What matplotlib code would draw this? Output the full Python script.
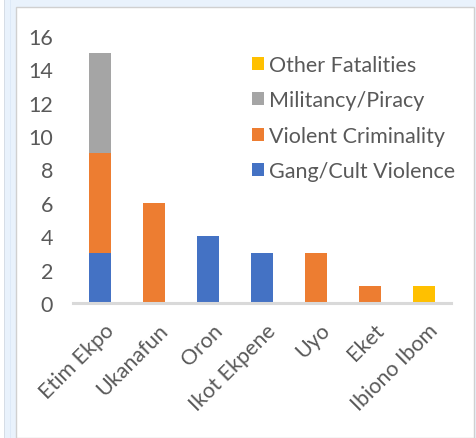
import matplotlib
matplotlib.use("Agg")
import matplotlib.pyplot as plt
from matplotlib.patches import Rectangle
import matplotlib.transforms as mtransforms
import numpy as np

categories = ["Etim Ekpo", "Ukanafun", "Oron", "Ikot Ekpene", "Uyo", "Eket", "Ibiono Ibom"]
gang = [3, 0, 4, 3, 0, 0, 0]
violent = [6, 6, 0, 0, 3, 1, 0]
militancy = [6, 0, 0, 0, 0, 0, 0]
other = [0, 0, 0, 0, 0, 0, 1]
series_names = ["Gang/Cult Violence", "Violent Criminality", "Militancy/Piracy", "Other Fatalities"]
colors = ["#4472c4", "#ed7d31", "#a5a5a5", "#ffc000"]
yticks = [0, 2, 4, 6, 8, 10, 12, 14, 16]

plt.rcParams['font.family'] = ['Lato', 'DejaVu Sans']
W, H = 477, 439
FS = 15.5
fig = plt.figure(figsize=(W/100, H/100), dpi=100)
fig.patch.set_facecolor("white")

# background axes for frame
bg = fig.add_axes([0, 0, 1, 1], zorder=-10)
bg.set_xlim(0, W)
bg.set_ylim(H, 0)
bg.axis("off")
bg.add_patch(Rectangle((4, 0), 473, 439, facecolor="#e9f2fc", edgecolor="none"))
bg.add_patch(Rectangle((4, 0), 1.2, 439, facecolor="#d6dde6", edgecolor="none"))
bg.add_patch(Rectangle((10, 0), 1.0, 439, facecolor="#dde9f7", edgecolor="none"))
bg.add_patch(Rectangle((16, 8), 458, 431, facecolor="white", edgecolor="#d0d0d0", linewidth=1.0))

# axes: x from 73 to 451 px, y zero at 304, 16 at 37
ax = fig.add_axes([73/W, 1 - 304/H, (451-73)/W, (304-37)/H])
ax.set_facecolor("none")
x = np.arange(len(categories))
bottom = np.zeros(len(categories))
series = [gang, violent, militancy, other]
handles = []
for vals, name, c in zip(series, series_names, colors):
    b = ax.bar(x, vals, width=0.4, bottom=bottom, color=c, label=name, zorder=2)
    handles.append(b)
    bottom += np.array(vals)

ax.set_xlim(-0.5, len(categories) - 0.5)
ax.set_ylim(0, 16)
ax.set_yticks(yticks)
ax.set_yticklabels([str(t) for t in yticks])
ax.set_xticks(x)
ax.set_xticklabels(categories, rotation=45, ha="right", va="top", rotation_mode="anchor")
for s in ["top", "right", "left"]:
    ax.spines[s].set_visible(False)
ax.spines["bottom"].set_color("#d9d9d9")
ax.spines["bottom"].set_linewidth(2.2)
ax.tick_params(axis="both", length=0, labelsize=FS, colors="#595959")
ax.tick_params(axis="y", pad=14.4)
ax.tick_params(axis="x", pad=12)
off = mtransforms.ScaledTranslation(4/100, 0, fig.dpi_scale_trans)
for lab in ax.get_xticklabels():
    lab.set_transform(lab.get_transform() + off)

leg = ax.legend(handles[::-1], series_names[::-1], loc="upper left",
                bbox_to_anchor=(0.474, 0.93), frameon=False, fontsize=FS,
                handlelength=0.55, handleheight=0.55, handletextpad=0.25,
                labelspacing=0.72, borderaxespad=0, borderpad=0)
for t in leg.get_texts():
    t.set_color("#595959")

fig.savefig("out.png", dpi=100)
